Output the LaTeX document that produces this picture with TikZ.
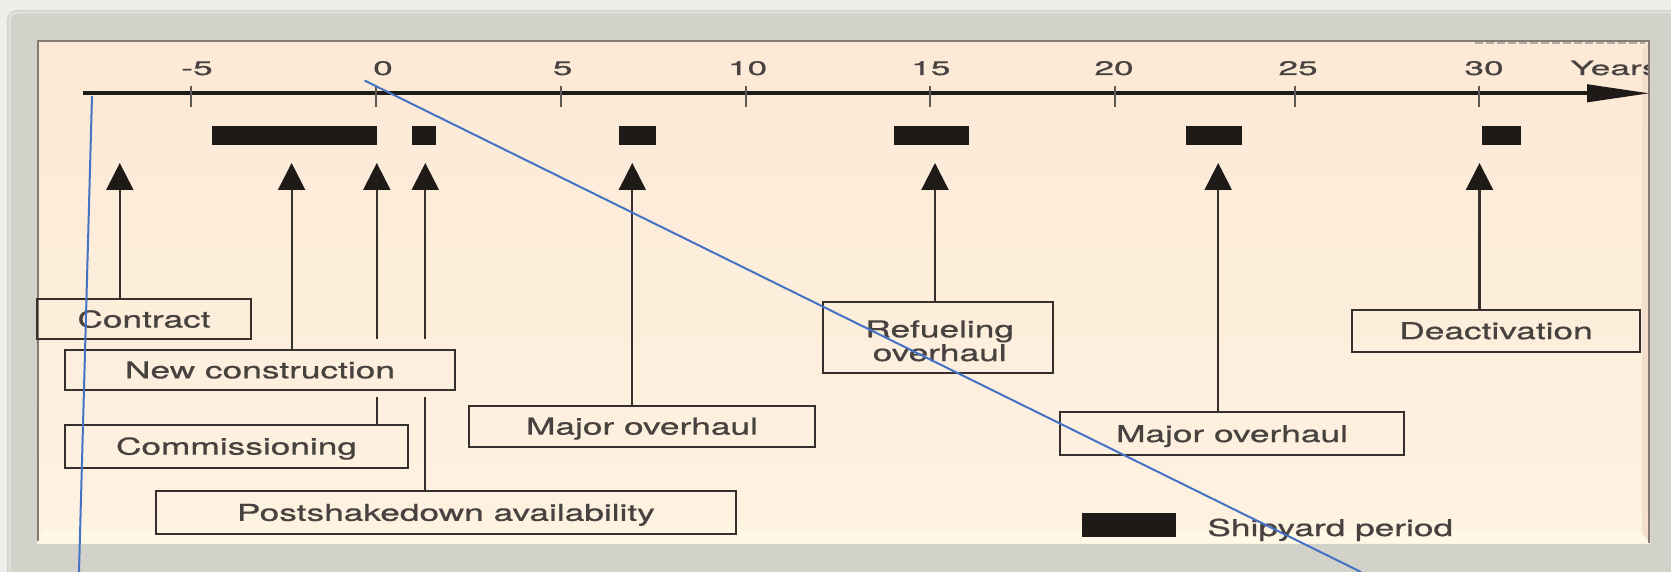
\documentclass[tikz,border=0pt]{standalone}
\usepackage{fontspec}
\setmainfont{TeX Gyre Heros}
\newfontfamily\diagfont{TeX Gyre Heros}[FakeBold=0.6]
\usepackage{graphicx}
\usetikzlibrary{arrows.meta}
\definecolor{outerc}{HTML}{EEEEEB}
\definecolor{framec}{HTML}{D3D2CA}
\definecolor{framehi}{HTML}{E3E2DC}
\definecolor{panelc}{HTML}{FCE9D6}
\definecolor{panellow}{HTML}{FEF2E1}
\definecolor{bevlow}{HTML}{FFF8E7}
\definecolor{bevright}{HTML}{F4DFCC}
\definecolor{edgec}{HTML}{857A70}
\definecolor{inkc}{HTML}{35302C}
\definecolor{txtc}{HTML}{47423F}
\definecolor{barc}{HTML}{1D1A18}
\definecolor{tickc}{HTML}{5E5954}
\definecolor{bluec}{HTML}{4472C4}
\newcommand{\wide}[1]{\scalebox{1.52}[1]{#1}}
\newcommand{\widetick}[1]{\scalebox{1.8}[1]{#1}}
\begin{document}
\begin{tikzpicture}[x=0.5pt,y=-0.5pt,
  lbl/.style={font=\diagfont\fontsize{11.6}{11.85}\selectfont, text=txtc},
  box/.style={lbl, draw=inkc, line width=1.1pt, inner sep=0pt, text height=8.33pt, text depth=0pt},
  ticklbl/.style={font=\diagfont\fontsize{9.8}{10}\selectfont, text=txtc, inner sep=0pt, anchor=base},
  shaft/.style={draw=inkc, line width=1.1pt},
  upar/.style={shaft, -{Triangle[length=13.5pt,width=13.5pt,color=barc]}},
  tickmark/.style={draw=tickc, line width=1pt},
  bar/.style={fill=barc},
  anno/.style={draw=bluec, line width=1pt}]
\useasboundingbox (0,0) rectangle (1671,572);
\clip (0,0) rectangle (1671,572);
% frame and panel
\fill[outerc] (0,0) rectangle (1671,572);
\fill[framec, rounded corners=5pt] (7,10) rectangle (1700,600);
\draw[framehi, line width=1pt, rounded corners=4pt] (9.5,600) -- (9.5,12.5) -- (1700,12.5);
\shade[top color=panelc, bottom color=panellow] (37,41) rectangle (1650,543);
\fill[bevlow] (37,543) -- (45,531) -- (1640,531) -- (1650,543) -- cycle;
\fill[bevright] (1650,41) -- (1642,49) -- (1642,533) -- (1650,543) -- cycle;
\draw[edgec, line width=1pt] (38,541) -- (38,41.5) -- (1649,41.5) -- (1649,543);
\draw[tickc!50, line width=0.8pt, dash pattern=on 4pt off 1.5pt] (1475,43) -- (1645,43);
% axis
\coordinate (axS) at (83,93.3);
\coordinate (axE) at (1650,93.3);
\draw[draw=barc, line width=2pt, -{Triangle[length=31.5pt,width=8.5pt]}] (axS) -- (axE);
\foreach \x in {190.6,375.8,561.4,745.9,930,1114.5,1294.8,1478.7}
  \draw[tickmark] (\x,86) -- (\x,106.7);
\node[ticklbl] (lm5) at (197,75) {\widetick{-5}};
\node[ticklbl] (l0) at (383,75) {\widetick{0}};
\node[ticklbl] (l5) at (562.6,75) {\widetick{5}};
\node[ticklbl] (l10) at (747.6,75) {\widetick{10}};
\node[ticklbl] (l15) at (930.8,75) {\widetick{15}};
\node[ticklbl] (l20) at (1114,75) {\widetick{20}};
\node[ticklbl] (l25) at (1298,75) {\widetick{25}};
\node[ticklbl] (l30) at (1484,75) {\widetick{30}};
\begin{scope}
  \clip (37,41) rectangle (1648,543);
  \node[ticklbl, anchor=base west] (lyears) at (1570,75) {\widetick{Years}};
\end{scope}
% shipyard periods
\fill[bar] (211.6,126) rectangle (377.3,145.3);
\fill[bar] (412,126) rectangle (436.3,145.3);
\fill[bar] (618.9,126) rectangle (656,145.3);
\fill[bar] (894.4,126) rectangle (969,145.3);
\fill[bar] (1185.6,126) rectangle (1242,145.3);
\fill[bar] (1482.4,126) rectangle (1520.6,145.3);
% boxes
\node[box, minimum width=107pt, minimum height=20.15pt] (contract) at (144,319.2) {\wide{Contract}};
\node[box, minimum width=195pt, minimum height=20pt] (newc) at (260,370) {\wide{New construction}};
\node[box, minimum width=171.5pt, minimum height=21.35pt] (comm) at (236.5,446.3) {\wide{Commissioning}};
\node[box, minimum width=290.15pt, minimum height=21.5pt] (post) at (445.9,512.5) {\wide{Postshakedown availability}};
\node[box, minimum width=173pt, minimum height=20.35pt] (major1) at (642,426.3) {\wide{Major overhaul}};
\node[box, minimum width=115pt, minimum height=35.8pt] (refuel) at (938,337.5) {};
\node[lbl, inner sep=0pt, anchor=base] (refuelA) at (939.7,337.3) {\wide{Refueling}};
\node[lbl, inner sep=0pt, anchor=base] (refuelB) at (939.7,361) {\wide{overhaul}};
\node[box, minimum width=172pt, minimum height=21.35pt] (major2) at (1232,433.7) {\wide{Major overhaul}};
\node[box, minimum width=144pt, minimum height=20.85pt] (deact) at (1496,330.8) {\wide{Deactivation}};
% arrows
\coordinate (tipA) at (119.8,163);
\coordinate (tipB) at (291.6,163);
\coordinate (tipC) at (376.8,163);
\coordinate (tipD) at (425.3,163);
\coordinate (tipE) at (632.3,163);
\coordinate (tipF) at (935,163);
\coordinate (tipG) at (1218.2,163);
\coordinate (tipH) at (1479.5,163);
\coordinate (gapC1) at (376.8,339);
\coordinate (gapC2) at (376.8,397);
\coordinate (gapD1) at (425.3,339);
\coordinate (gapD2) at (425.3,397);
\draw[upar] (contract.north -| tipA) -- (tipA);
\draw[upar] (newc.north -| tipB) -- (tipB);
\draw[upar] (gapC1) -- (tipC);
\draw[shaft] (comm.north -| tipC) -- (gapC2);
\draw[upar] (gapD1) -- (tipD);
\draw[shaft] (post.north -| tipD) -- (gapD2);
\draw[upar] (major1.north -| tipE) -- (tipE);
\draw[upar] (refuel.north -| tipF) -- (tipF);
\draw[upar] (major2.north -| tipG) -- (tipG);
\draw[upar] (deact.north -| tipH) -- (tipH);
% legend
\fill[bar] (1082,513) rectangle (1176,537);
\node[lbl, anchor=base west, inner sep=0pt] (legend) at (1207,536) {\wide{Shipyard period}};
% annotation lines
\coordinate (b1s) at (92,96);
\coordinate (b1e) at (79,572);
\coordinate (b2s) at (364.5,80.5);
\coordinate (b2e) at (1361,572);
\draw[anno] (b1s) -- (b1e);
\draw[anno] (b2s) -- (b2e);
\end{tikzpicture}
\end{document}
